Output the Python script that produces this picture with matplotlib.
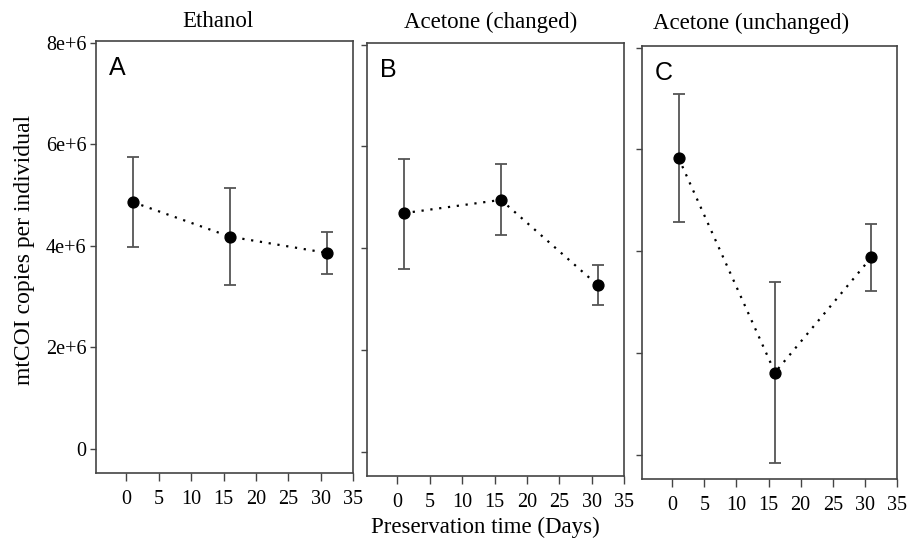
import matplotlib.pyplot as plt

days = [1, 16, 31]

titles = ["Ethanol", "Acetone (changed)", "Acetone (unchanged)"]
letters = ["A", "B", "C"]

ethanol = [4.86e6, 4.18e6, 3.86e6]
ethanol_hi = [5.75e6, 5.14e6, 4.27e6]
ethanol_lo = [3.97e6, 3.22e6, 3.44e6]

changed = [4.69e6, 4.95e6, 3.27e6]
changed_hi = [5.75e6, 5.65e6, 3.67e6]
changed_lo = [3.60e6, 4.27e6, 2.88e6]

unchanged = [5.83e6, 1.62e6, 3.88e6]
unchanged_hi = [7.08e6, 3.40e6, 4.54e6]
unchanged_lo = [4.58e6, -0.15e6, 3.23e6]

yticks = [0, 2e6, 4e6, 6e6, 8e6]
ytick_labels = ["0", "2e+6", "4e+6", "6e+6", "8e+6"]
xticks = [0, 5, 10, 15, 20, 25, 30, 35]

W, H = 907, 542
fig = plt.figure(figsize=(W / 100, H / 100), dpi=100)

# panel boxes in pixels: left, right, top, bottom (scan is slightly skewed)
boxes = [(96, 353, 41, 473), (367, 624, 43, 476), (642, 897, 46, 479)]
# title centres and baselines in pixels
title_pos = [(218, 27), (491, 28), (751, 29)]

serif = "Liberation Serif"
edge = "#444444"

series = [(ethanol, ethanol_hi, ethanol_lo),
          (changed, changed_hi, changed_lo),
          (unchanged, unchanged_hi, unchanged_lo)]

for i, (vals, hi, lo) in enumerate(series):
    l, r, t, b = boxes[i]
    ax = fig.add_axes([l / W, 1 - b / H, (r - l) / W, (b - t) / H])
    err = [[v - lo_ for v, lo_ in zip(vals, lo)], [hi_ - v for v, hi_ in zip(vals, hi)]]
    ax.errorbar(days, vals, yerr=err, fmt="none", ecolor="#555555",
                elinewidth=1.3, capsize=4.5, capthick=1.3)
    ax.plot(days, vals, linestyle=(0, (1, 3)), color="black", linewidth=1.6,
            marker="o", markersize=7.8, markerfacecolor="black",
            markeredgecolor="black")
    ax.set_xlim(-4.7, 35)
    ax.set_ylim(-0.47e6, 8.03e6)
    ax.set_xticks(xticks)
    ax.set_xticklabels([str(x) for x in xticks], fontfamily=serif, fontsize=14.5)
    ax.set_yticks(yticks)
    if i == 0:
        ax.set_yticklabels(ytick_labels, fontfamily=serif, fontsize=14.5)
    else:
        ax.set_yticklabels([])
    ax.tick_params(axis="x", length=6, width=1, color=edge, pad=6)
    ax.tick_params(axis="y", length=4, width=1, color=edge, pad=3)
    for s in ax.spines.values():
        s.set_color(edge)
        s.set_linewidth(1.2)
    tx, ty = title_pos[i]
    fig.text(tx / W, 1 - ty / H, titles[i], ha="center", va="baseline",
             fontfamily=serif, fontsize=16.5)
    ax.text(0.05, 0.965, letters[i], transform=ax.transAxes, ha="left", va="top",
            fontfamily="Liberation Sans", fontsize=18)

fig.text(25 / W, 1 - 250 / H, "mtCOI copies per individual", rotation=90,
         ha="center", va="center", fontfamily=serif, fontsize=17)
fig.text(485 / W, 1 - 527 / H, "Preservation time (Days)", ha="center",
         va="center", fontfamily=serif, fontsize=16.5)

fig.savefig("out.png", dpi=100)
